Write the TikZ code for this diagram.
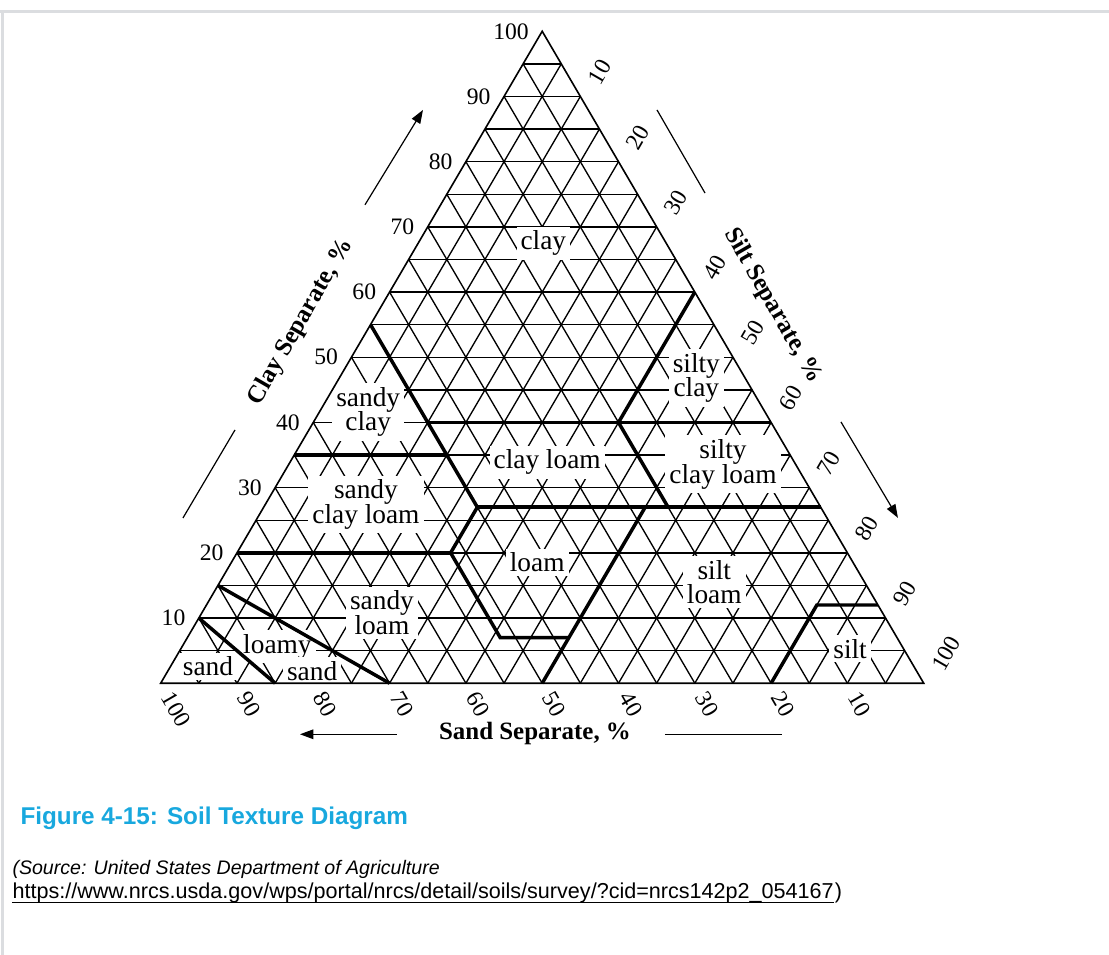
\documentclass[tikz,border=0pt]{standalone}
\usepackage{fontspec}
\setmainfont{Liberation Serif}
\newfontfamily\capfont{Liberation Sans}
\usetikzlibrary{arrows.meta}
\definecolor{captionblue}{RGB}{24,168,222}
\definecolor{framegray}{RGB}{219,221,224}

\begin{document}
\begin{tikzpicture}[
  grid/.style={line width=0.5pt},
  bound/.style={line width=1.3pt},
  num/.style={font=\fontsize{8.8}{10}\selectfont, inner sep=0pt},
  zone/.style={font=\fontsize{10.2}{11}\selectfont, fill=white, inner sep=1.5pt, align=center},
  axtitle/.style={font=\bfseries\fontsize{9.3}{11}\selectfont, inner sep=1pt},
  dimline/.style={line width=0.45pt},
  dimarrow/.style={line width=0.45pt, -{Triangle[length=5pt,width=3.6pt]}},
]
\useasboundingbox (-2.106cm,-3.561cm) rectangle (12.429cm,8.955cm);
\draw[framegray, line width=1.1pt] (-2.2cm,8.805cm) -- (12.5cm,8.805cm);
\draw[framegray, line width=1.1pt] (-2.073cm,8.805cm) -- (-2.073cm,-3.6cm);

% silt along x, clay along y
\begin{scope}[x={(0.1cm,0cm)}, y={(0.05cm,0.08545cm)}]
\foreach \p in {5,10,...,95} {
  \draw[grid] (0,\p) -- (100-\p,\p);
  \draw[grid] (\p,0) -- (\p,100-\p);
  \draw[grid] (\p,0) -- (0,\p);
}

\node[zone] (clay) at (16.4,67.5) {clay};
\node[zone] (sandyclay) at (6.4,41.6) {sandy\\[-1.8pt]clay};
\node[zone] (siltyclay) at (46.8,46.8) {silty\\[-1.8pt]clay};
\node[zone] (siltyclayloam) at (56.9,33.6) {silty\\[-1.8pt]clay loam};
\node[zone] (clayloam) at (33.7,33.9) {clay loam};
\node[zone] (sandyclayloam) at (13.2,27.4) {sandy\\[-1.8pt]clay loam};
\node[zone] (loam) at (40.1,18.5) {loam};
\node[zone] (siltloam) at (64.8,15.5) {silt\\[-1.8pt]loam};
\node[zone] (sandyloam) at (23.6,10.8) {sandy\\[-1.8pt]loam};
\node[zone] (loamy) at (12.5,5.6) {loamy};
\node[zone] (loamysand) at (18.9,1.9) {sand};
\node[zone] (sand) at (4.9,2.6) {sand};
\node[zone] (silt) at (87.7,5.3) {silt};

\draw[line width=0.6pt] (0,0) coordinate (sandcorner) -- (100,0) coordinate (siltcorner)
  -- (0,100) coordinate (claycorner) -- cycle;

\draw[bound] (0,55) -- (15,40) -- (20,35) -- (28,27) -- (28,20) -- (41,7) -- (50,7);
\draw[bound] (40,60) -- (40,40) -- (53,27);
\draw[bound] (15,40) -- (60,40);
\draw[bound] (0,35) -- (20,35);
\draw[bound] (28,27) -- (73,27);
\draw[bound] (0,20) -- (28,20);
\draw[bound] (50,0) -- (50,27);
\draw[bound] (80,0) -- (80,12) -- (88,12);
\draw[bound] (0,15) -- (30,0);
\draw[bound] (0,10) -- (15,0);

\foreach \v in {10,20,...,100} {
  \node[num, anchor=east, xshift=-0.17cm] (clay\v) at (0,\v) {\v};
  \node[num, anchor=west, rotate=-60] (sand\v) at (100-\v+1.6,-1.6) {\v};
  \node[num, anchor=west, rotate=60] (silt\v) at (\v+0.7,100-\v+2.1) {\v};
}
\end{scope}

\node[axtitle, rotate=60] (claytitle) at (1.839cm,4.735cm) {Clay Separate, \%};
\coordinate (clayA) at (0.292cm,2.166cm);
\coordinate (clayB) at (0.974cm,3.320cm);
\coordinate (clayC) at (2.678cm,6.271cm);
\coordinate (clayD) at (3.438cm,7.514cm);
\draw[dimline] (clayA) -- (clayB);
\draw[dimarrow] (clayC) -- (clayD);

\node[axtitle, rotate=-60] (silttitle) at (8.025cm,4.945cm) {Silt Separate, \%};
\coordinate (siltA) at (6.505cm,7.514cm);
\coordinate (siltB) at (7.134cm,6.425cm);
\coordinate (siltC) at (8.916cm,3.425cm);
\coordinate (siltD) at (9.663cm,2.167cm);
\draw[dimline] (siltA) -- (siltB);
\draw[dimarrow] (siltC) -- (siltD);

\node[axtitle] (sandtitle) at (4.906cm,-0.664cm) {Sand Separate, \%};
\coordinate (sandA) at (3.093cm,-0.669cm);
\coordinate (sandB) at (1.826cm,-0.669cm);
\coordinate (sandC) at (6.609cm,-0.669cm);
\coordinate (sandD) at (8.143cm,-0.669cm);
\draw[dimarrow] (sandA) -- (sandB);
\draw[dimline] (sandC) -- (sandD);

\node[anchor=west, inner sep=0pt, text=captionblue, font=\capfont\bfseries\fontsize{9.05}{10}\selectfont]
  (caption) at (-1.844cm,-1.765cm) {Figure 4-15: Soil Texture Diagram};
\node[anchor=west, inner sep=0pt, font=\capfont\itshape\fontsize{7.3}{9}\selectfont]
  (source) at (-1.949cm,-2.445cm) {(Source: United States Department of Agriculture};
\node[anchor=west, inner sep=0pt, font=\capfont\fontsize{8.05}{9}\selectfont]
  (url) at (-1.949cm,-2.747cm) {https://www.nrcs.usda.gov/wps/portal/nrcs/detail/soils/survey/?cid=nrcs142p2\_054167};
\node[anchor=base west, inner sep=0pt, font=\capfont\fontsize{8.05}{9}\selectfont]
  (urlparen) at (url.base east) {)};
\draw[line width=0.55pt] ([yshift=-1.6pt]url.base west) -- ([yshift=-1.6pt]url.base east);
\end{tikzpicture}
\end{document}
